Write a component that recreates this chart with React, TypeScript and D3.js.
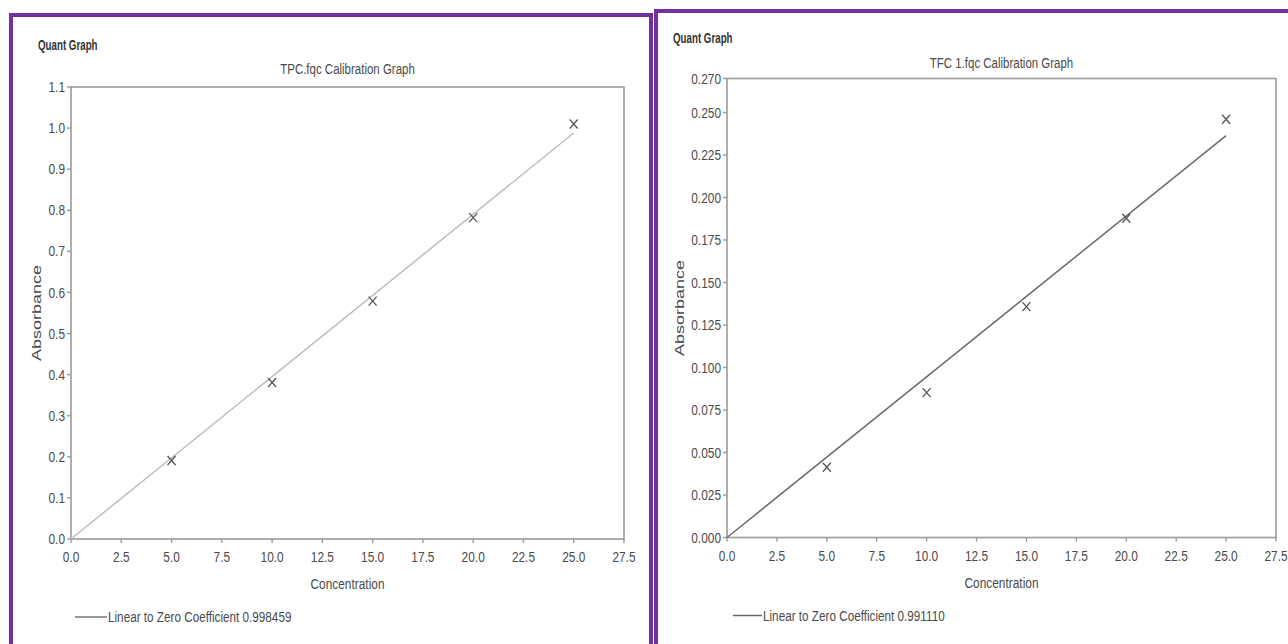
import React from "react";
import * as d3 from "d3";

const concentrations = [5, 10, 15, 20, 25];
const tpcAbsorbance = [0.191, 0.381, 0.579, 0.782, 1.01];
const tfcAbsorbance = [0.0413, 0.0852, 0.1358, 0.1878, 0.246];
const xTickValues = [0, 2.5, 5, 7.5, 10, 12.5, 15, 17.5, 20, 22.5, 25, 27.5];
const tpcYTicks = [0, 0.1, 0.2, 0.3, 0.4, 0.5, 0.6, 0.7, 0.8, 0.9, 1.0, 1.1];
const tfcYTicks = [0, 0.025, 0.05, 0.075, 0.1, 0.125, 0.15, 0.175, 0.2, 0.225, 0.25, 0.27];
const tpcTitle = "TPC.fqc Calibration Graph";
const tfcTitle = "TFC 1.fqc Calibration Graph";
const tpcLegend = "Linear to Zero Coefficient 0.998459";
const tfcLegend = "Linear to Zero Coefficient 0.991110";

const FONT = "'Liberation Sans', Arial, sans-serif";
const TEXT = "#4a4a4a";
const SX = 0.82;

function NText(props: {
  x: number;
  y: number;
  size: number;
  anchor?: "start" | "middle" | "end";
  weight?: string;
  sx?: number;
  dy?: string;
  fill?: string;
  children: React.ReactNode;
}) {
  const sx = props.sx ?? SX;
  return (
    <text
      transform={`translate(${props.x},${props.y}) scale(${sx},1)`}
      textAnchor={props.anchor ?? "start"}
      fontFamily={FONT}
      fontSize={props.size}
      fontWeight={props.weight ?? "normal"}
      dy={props.dy}
      fill={props.fill ?? TEXT}
    >
      {props.children}
    </text>
  );
}

type PanelProps = {
  xRange: [number, number];
  yRange: [number, number];
  yMax: number;
  yTicks: number[];
  yFormat: string;
  values: number[];
  title: string;
  legend: string;
  quantX: number;
  quantY: number;
  titleY: number;
  yLabelX: number;
  legendX0: number;
  legendX1: number;
  fitColor: string;
  legendColor: string;
};

function Panel(p: PanelProps) {
  const x = d3.scaleLinear().domain([0, 27.5]).range(p.xRange);
  const y = d3.scaleLinear().domain([0, p.yMax]).range(p.yRange);
  const fmtY = d3.format(p.yFormat);
  const fmtX = d3.format(".1f");
  const sxy = d3.sum(concentrations, (c, i) => c * p.values[i]);
  const sxx = d3.sum(concentrations, (c) => c * c);
  const slope = sxy / sxx;
  const xMaxData = d3.max(concentrations) as number;
  const line = d3
    .line<number>()
    .x((d) => x(d))
    .y((d) => y(d * slope));
  const [x0, x1] = p.xRange;
  const [yb, yt] = p.yRange;
  const cx = (x0 + x1) / 2;
  const midY = (yb + yt) / 2;
  const frame = "#9a9a9a";
  return (
    <g>
      <NText x={p.quantX} y={p.quantY} size={15} weight="bold" sx={0.65} fill="#333">
        Quant Graph
      </NText>
      <NText x={cx} y={p.titleY} size={14} anchor="middle">
        {p.title}
      </NText>
      <rect x={x0} y={yt} width={x1 - x0} height={yb - yt} fill="none" stroke={frame} strokeWidth={1.6} />
      {p.yTicks.map((t) => (
        <g key={"y" + t}>
          <line x1={x0 - 4} x2={x0} y1={y(t)} y2={y(t)} stroke={frame} strokeWidth={1.4} />
          <NText x={x0 - 6} y={y(t)} dy="0.35em" size={14.5} anchor="end">
            {fmtY(t)}
          </NText>
        </g>
      ))}
      {xTickValues.map((t) => (
        <g key={"x" + t}>
          <line x1={x(t)} x2={x(t)} y1={yb} y2={yb + 4} stroke={frame} strokeWidth={1.4} />
          <NText x={x(t)} y={yb + 23} size={14.5} anchor="middle">
            {fmtX(t)}
          </NText>
        </g>
      ))}
      <NText x={cx} y={yb + 50} size={14.5} anchor="middle">
        Concentration
      </NText>
      <text
        transform={`translate(${p.yLabelX},${midY}) rotate(-90) scale(1.2,0.82)`}
        textAnchor="middle"
        dy="0.35em"
        fontFamily={FONT}
        fontSize={15}
        fill={TEXT}
      >
        Absorbance
      </text>
      <path d={line([0, xMaxData]) as string} fill="none" stroke={p.fitColor} strokeWidth={1.5} />
      {concentrations.map((c, i) => {
        const px = x(c);
        const py = y(p.values[i]);
        const h = 4;
        return (
          <path
            key={"pt" + c}
            d={`M${px - h},${py - h - 0.5}L${px + h},${py + h + 0.5}M${px + h},${py - h - 0.5}L${px - h},${py + h + 0.5}`}
            stroke="#555"
            strokeWidth={1.3}
            fill="none"
          />
        );
      })}
      <line x1={p.legendX0} x2={p.legendX1} y1={yb + 78} y2={yb + 78} stroke={p.legendColor} strokeWidth={1.5} />
      <NText x={p.legendX1 + 1} y={yb + 78} dy="0.35em" size={14.3}>
        {p.legend}
      </NText>
    </g>
  );
}

export default function App() {
  const purple = "#7030a0";
  return (
    <svg
      width={1288}
      height={644}
      style={{ position: "absolute", left: 0, top: 0, background: "#fff" }}
    >
      <rect x={0} y={0} width={1288} height={644} fill="#fff" />
      <rect x={11} y={15} width={640} height={660} fill="none" stroke={purple} strokeWidth={4} />
      <rect x={656} y={11} width={660} height={660} fill="none" stroke={purple} strokeWidth={4} />
      <Panel
        xRange={[71, 624]}
        yRange={[539, 87]}
        yMax={1.1}
        yTicks={tpcYTicks}
        yFormat=".1f"
        values={tpcAbsorbance}
        title={tpcTitle}
        legend={tpcLegend}
        quantX={38}
        quantY={50}
        titleY={74}
        yLabelX={37}
        legendX0={75}
        legendX1={107}
        fitColor="#bdbdbd"
        legendColor="#777"
      />
      <Panel
        xRange={[727, 1276]}
        yRange={[537.5, 78.5]}
        yMax={0.27}
        yTicks={tfcYTicks}
        yFormat=".3f"
        values={tfcAbsorbance}
        title={tfcTitle}
        legend={tfcLegend}
        quantX={673}
        quantY={43}
        titleY={68}
        yLabelX={680}
        legendX0={733}
        legendX1={762}
        fitColor="#6a6a6a"
        legendColor="#666"
      />
    </svg>
  );
}
